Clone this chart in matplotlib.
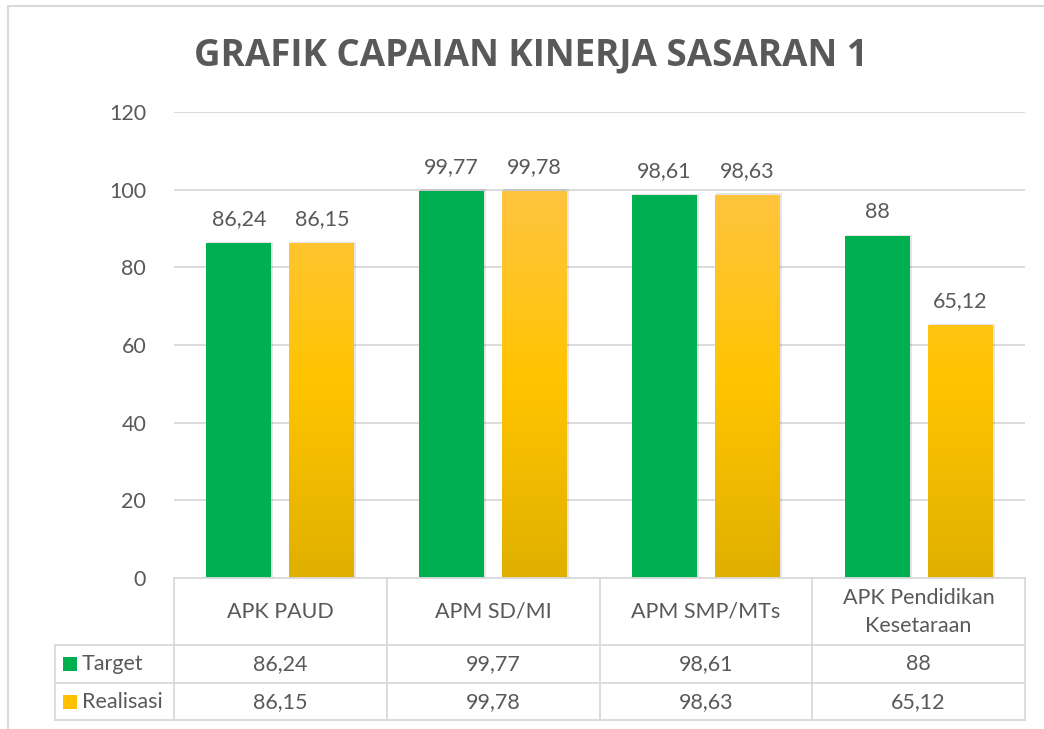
import matplotlib
matplotlib.use("Agg")
import matplotlib.pyplot as plt
import numpy as np
from matplotlib.transforms import blended_transform_factory
from matplotlib.patches import Rectangle
from matplotlib.colors import LinearSegmentedColormap

categories = ["APK PAUD", "APM SD/MI", "APM SMP/MTs", "APK Pendidikan\nKesetaraan"]
series_names = ["Target", "Realisasi"]
target = [86.24, 99.77, 98.61, 88]
realisasi = [86.15, 99.78, 98.63, 65.12]
target_labels = ["86,24", "99,77", "98,61", "88"]
realisasi_labels = ["86,15", "99,78", "98,63", "65,12"]
yticks = [0, 20, 40, 60, 80, 100, 120]
title = "GRAFIK CAPAIAN KINERJA SASARAN 1"

W, H = 1044, 729
fig = plt.figure(figsize=(W / 100, H / 100), dpi=100)
fig.patch.set_facecolor("white")

FONT = ["Lato", "DejaVu Sans"]
FS = 15.5
TXT = "#595959"
GRID = "#D9D9D9"
GREEN = "#00B050"
GOLD = "#FFC000"

def fx(x):
    return x / W

def fy(y):
    return 1 - y / H

# plot area
ax_l, ax_r, ax_t, ax_b = 174, 1025, 112, 578
ax = fig.add_axes([fx(ax_l), fy(ax_b), fx(ax_r - ax_l), (ax_b - ax_t) / H])
ax.set_xlim(-0.5, len(categories) - 0.5)
ax.set_ylim(0, 120)
ax.set_yticks(yticks)
ax.set_yticklabels([str(v) for v in yticks], fontsize=FS, color=TXT, family=FONT)
ax.tick_params(axis="y", length=0, pad=20)
ax.set_xticks([])
for s in ax.spines.values():
    s.set_visible(False)
ax.grid(axis="y", color=GRID, linewidth=1.3)
ax.set_axisbelow(True)

x = np.arange(len(categories))
bw = 0.305
off = 0.195

gold_cmap = LinearSegmentedColormap.from_list("gold", ["#E0B000", "#FFC400", "#FFC540"])

# shadows
for xi, v in zip(x, target):
    ax.add_patch(Rectangle((xi - off - bw / 2 + 0.006, 0), bw + 0.004, v + 0.4,
                           color="#000000", alpha=0.10, zorder=2, linewidth=0))
for xi, v in zip(x, realisasi):
    ax.add_patch(Rectangle((xi + off - bw / 2 + 0.006, 0), bw + 0.004, v + 0.4,
                           color="#000000", alpha=0.10, zorder=2, linewidth=0))

bars_t = ax.bar(x - off, target, bw, color=GREEN, zorder=3, linewidth=0)
bars_r = ax.bar(x + off, realisasi, bw, color=GOLD, zorder=3, linewidth=0)

grad = np.linspace(0, 1, 256).reshape(-1, 1)
for b in bars_r:
    bx = b.get_x()
    bwid = b.get_width()
    im = ax.imshow(grad, cmap=gold_cmap, origin="lower", aspect="auto",
                   extent=[bx, bx + bwid, 0, 100], zorder=3.5)
    im.set_clip_path(b)

for b, lab in zip(bars_t, target_labels):
    ax.annotate(lab, (b.get_x() + b.get_width() / 2, b.get_height()),
                xytext=(0, 10), textcoords="offset points", ha="center", va="bottom",
                fontsize=FS, color=TXT, family=FONT)
for b, lab in zip(bars_r, realisasi_labels):
    ax.annotate(lab, (b.get_x() + b.get_width() / 2, b.get_height()),
                xytext=(0, 10), textcoords="offset points", ha="center", va="bottom",
                fontsize=FS, color=TXT, family=FONT)

ax.set_xlim(-0.5, len(categories) - 0.5)
ax.set_ylim(0, 120)

# data table
tr = blended_transform_factory(ax.transData, fig.transFigure)
lw = 1.3
row_y = [578, 645, 683, 720]
left_px = 55
for i, yy in enumerate(row_y):
    if i > 0:
        fig.add_artist(plt.Line2D([fx(left_px), fx(ax_l)], [fy(yy)] * 2,
                                  transform=fig.transFigure, color=GRID, lw=lw))
    fig.add_artist(plt.Line2D([-0.5, len(categories) - 0.5], [fy(yy)] * 2,
                              transform=tr, color=GRID, lw=lw))
for k in range(len(categories) + 1):
    fig.add_artist(plt.Line2D([k - 0.5, k - 0.5], [fy(578), fy(720)],
                              transform=tr, color=GRID, lw=lw))
fig.add_artist(plt.Line2D([fx(left_px)] * 2, [fy(645), fy(720)],
                          transform=fig.transFigure, color=GRID, lw=lw))

for i, c in enumerate(categories):
    fig.text(i, fy(612), c, transform=tr, ha="center", va="center",
             fontsize=FS, color=TXT, family=FONT, linespacing=1.55)
    fig.text(i, fy(664), target_labels[i], transform=tr, ha="center", va="center",
             fontsize=FS, color=TXT, family=FONT)
    fig.text(i, fy(702), realisasi_labels[i], transform=tr, ha="center", va="center",
             fontsize=FS, color=TXT, family=FONT)

# legend keys in table
for yy, col, name in [(664, GREEN, series_names[0]), (702, GOLD, series_names[1])]:
    fig.add_artist(Rectangle((fx(63), fy(yy + 7)), fx(14), 14 / H,
                             transform=fig.transFigure, color=col, lw=0))
    fig.text(fx(82), fy(yy), name, ha="left", va="center", fontsize=FS,
             color=TXT, family=FONT)

# chart border
fig.add_artist(plt.Line2D([fx(8), fx(8)], [fy(6), 0], transform=fig.transFigure,
                          color=GRID, lw=1.5))
fig.add_artist(plt.Line2D([fx(8), 1], [fy(6), fy(6)], transform=fig.transFigure,
                          color=GRID, lw=1.5))

fig.text(fx(531), fy(55), title, ha="center", va="center", fontsize=26.5,
         fontweight="bold", color=TXT, family=["Liberation Sans Narrow", "Open Sans", "DejaVu Sans"])

fig.savefig("out.png", dpi=100)
